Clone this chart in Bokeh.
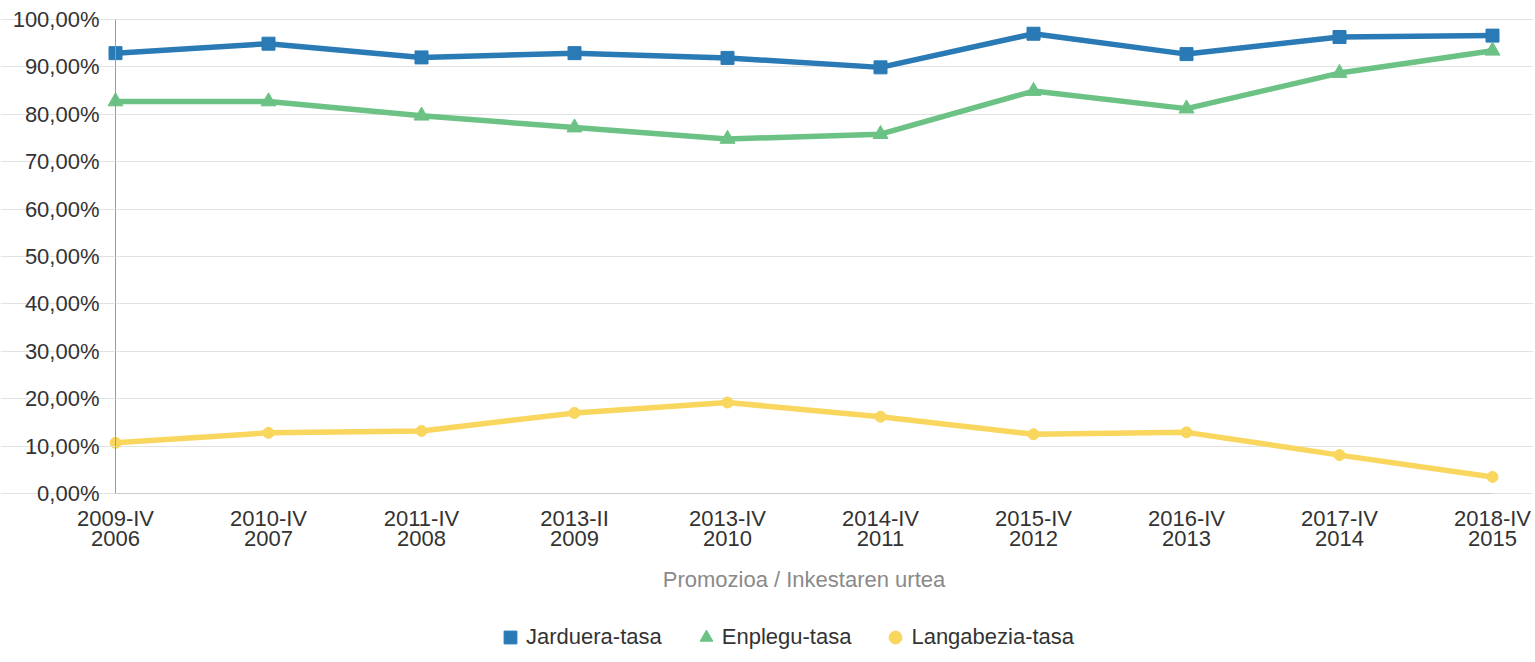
from bokeh.plotting import figure
from bokeh.models import Range1d, FixedTicker, Legend, LegendItem
from bokeh.embed import file_html
from bokeh.resources import INLINE

promozioak = ["2009-IV", "2010-IV", "2011-IV", "2013-II", "2013-IV",
              "2014-IV", "2015-IV", "2016-IV", "2017-IV", "2018-IV"]
urteak = ["2006", "2007", "2008", "2009", "2010",
          "2011", "2012", "2013", "2014", "2015"]
jarduera = [92.9, 94.9, 92.0, 92.9, 91.9, 89.9, 97.0, 92.7, 96.3, 96.6]
enplegu = [82.7, 82.7, 79.7, 77.2, 74.8, 75.8, 84.9, 81.2, 88.7, 93.4]
langabezia = [10.7, 12.8, 13.2, 17.0, 19.2, 16.2, 12.5, 12.9, 8.1, 3.5]
y_ticks = [0, 10, 20, 30, 40, 50, 60, 70, 80, 90, 100]

x = list(range(len(promozioak)))
N = len(x) - 1

FONT = "Liberation Sans"
FS = "22px"
W, H = 1533, 655
# layout of the plotting area in canvas pixels
PLOT_L, PLOT_R, PLOT_T, PLOT_B = 115, 1492, 19, 493
px_x = (PLOT_R - PLOT_L) / N
px_y = (PLOT_B - PLOT_T) / 100
x_range = Range1d(-PLOT_L / px_x, N + (W - PLOT_R) / px_x)
y_range = Range1d(-(H - PLOT_B) / px_y, 100 + PLOT_T / px_y)

p = figure(width=W, height=H, output_backend="svg", toolbar_location=None,
           x_range=x_range, y_range=y_range,
           min_border_left=0, min_border_right=0,
           min_border_top=0, min_border_bottom=0,
           outline_line_color=None, background_fill_color="white",
           border_fill_color="white")

# x axis at 0 %
xa = p.xaxis[0]
xa.fixed_location = 0
xa.bounds = (0, N)
xa.ticker = FixedTicker(ticks=x)
xa.major_label_overrides = {i: f"{promozioak[i]}\n{urteak[i]}" for i in x}
xa.major_label_text_font = FONT
xa.major_label_text_font_size = FS
xa.major_label_text_color = "#333333"
xa.major_label_text_line_height = 0.8
xa.major_label_standoff = 6
xa.major_tick_line_color = None
xa.minor_tick_line_color = None
xa.axis_line_color = "#cccccc"
xa.axis_label = "Promozioa / Inkestaren urtea"
xa.axis_label_text_font = FONT
xa.axis_label_text_font_size = FS
xa.axis_label_text_font_style = "normal"
xa.axis_label_text_color = "#8a8a8a"
xa.axis_label_standoff = 13

# y axis at the first category
ya = p.yaxis[0]
ya.fixed_location = 0
ya.bounds = (0, 100)
ya.ticker = FixedTicker(ticks=y_ticks)
ya.major_label_overrides = {t: f"{t},00%" for t in y_ticks}
ya.major_label_text_font = FONT
ya.major_label_text_font_size = FS
ya.major_label_text_color = "#333333"
ya.major_label_standoff = 8
ya.major_tick_out = 8
ya.major_tick_in = 0
ya.major_tick_line_color = "#e3e3e3"
ya.minor_tick_line_color = None
ya.axis_line_color = "#9a9a9a"

p.xgrid.grid_line_color = None
p.ygrid.grid_line_color = "#e3e3e3"
p.ygrid.grid_line_width = 1
p.ygrid.bounds = (0, N)

series = [
    ("Jarduera-tasa", jarduera, "#2a7ab5", "square", 13),
    ("Enplegu-tasa", enplegu, "#6cc285", "triangle", 15),
    ("Langabezia-tasa", langabezia, "#f9d65e", "circle", 11),
]

items = []
for name, vals, color, marker, size in series:
    p.line(x, vals, line_color=color, line_width=5.5, line_join="round")
    sc = p.scatter(x, vals, marker=marker, size=size, fill_color=color,
                   line_color=color)
    items.append(LegendItem(label=name, renderers=[sc]))

legend = Legend(items=items, orientation="horizontal", location=(494, 2),
                glyph_width=32, glyph_height=32, label_standoff=0, spacing=28,
                padding=0, margin=0, border_line_color=None,
                background_fill_alpha=0,
                label_text_font=FONT, label_text_font_size=FS,
                label_text_color="#333333")
p.add_layout(legend)

open("out.html", "w").write(file_html(p, INLINE))
